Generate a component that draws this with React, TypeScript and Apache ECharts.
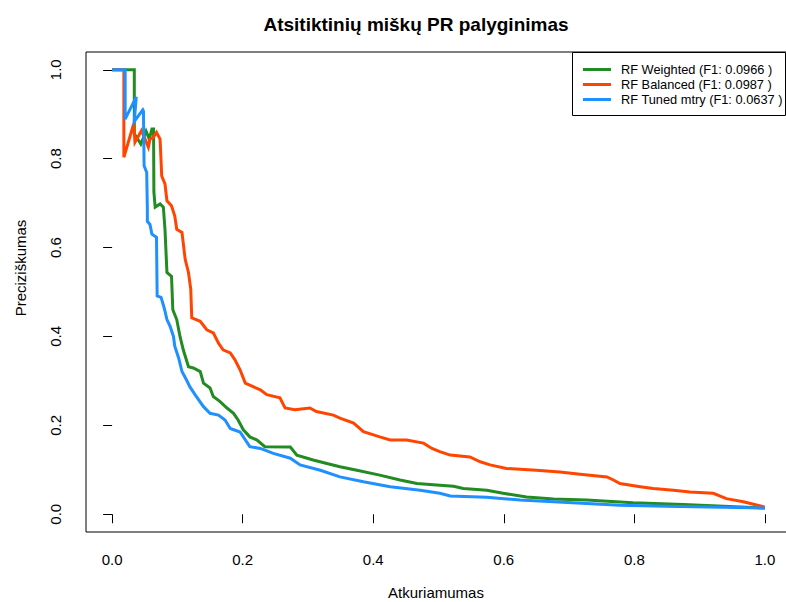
import React, { useEffect, useRef } from "react";
import * as echarts from "echarts";

const FONT = "'Liberation Sans', Arial, Helvetica, sans-serif";

const chartTitle = "Atsitiktinių miškų PR palyginimas";
const xAxisTitle = "Atkuriamumas";
const yAxisTitle = "Preciziškumas";
const tickValues = [0, 0.2, 0.4, 0.6, 0.8, 1.0];

const seriesNames = [
  "RF Weighted (F1: 0.0966 )",
  "RF Balanced (F1: 0.0987 )",
  "RF Tuned mtry (F1: 0.0637 )",
];
const seriesColors = ["#228B22", "#FF4500", "#1E90FF"];

// [recall, precision]
const weighted: [number, number][] = [
  [0, 1.0], [0.034, 1.0], [0.034, 0.856], [0.044, 0.833], [0.052, 0.862], [0.057, 0.844],
  [0.061, 0.867], [0.0635, 0.867], [0.064, 0.725], [0.066, 0.691], [0.0735, 0.698],
  [0.0785, 0.691], [0.081, 0.641], [0.084, 0.544], [0.091, 0.535], [0.093, 0.46],
  [0.099, 0.438], [0.104, 0.4], [0.109, 0.37], [0.117, 0.332], [0.1245, 0.329],
  [0.135, 0.321], [0.14, 0.295], [0.15, 0.284], [0.155, 0.265], [0.165, 0.254],
  [0.176, 0.239], [0.186, 0.227], [0.193, 0.212], [0.201, 0.19], [0.211, 0.174],
  [0.222, 0.167], [0.234, 0.152], [0.273, 0.151], [0.283, 0.133], [0.308, 0.122],
  [0.329, 0.114], [0.349, 0.107], [0.375, 0.099], [0.41, 0.088], [0.441, 0.077],
  [0.467, 0.069], [0.502, 0.065], [0.523, 0.063], [0.538, 0.058], [0.574, 0.054],
  [0.599, 0.047], [0.635, 0.039], [0.676, 0.034], [0.727, 0.032], [0.798, 0.026],
  [0.875, 0.022], [1.0, 0.014],
];

const balanced: [number, number][] = [
  [0, 1.0], [0.018, 1.0], [0.018, 0.803], [0.033, 0.878], [0.035, 0.837], [0.045, 0.863],
  [0.0505, 0.844], [0.0555, 0.826], [0.058, 0.844], [0.063, 0.848], [0.068, 0.859],
  [0.0735, 0.844], [0.076, 0.761], [0.081, 0.743], [0.084, 0.705], [0.091, 0.694],
  [0.096, 0.671], [0.099, 0.641], [0.107, 0.634], [0.112, 0.573], [0.117, 0.544],
  [0.1205, 0.506], [0.122, 0.442], [0.135, 0.434], [0.145, 0.415], [0.155, 0.408],
  [0.163, 0.385], [0.17, 0.37], [0.181, 0.363], [0.188, 0.348], [0.196, 0.325],
  [0.204, 0.295], [0.216, 0.287], [0.227, 0.28], [0.237, 0.269], [0.257, 0.262],
  [0.265, 0.239], [0.28, 0.235], [0.303, 0.239], [0.313, 0.231], [0.339, 0.223],
  [0.349, 0.216], [0.37, 0.205], [0.385, 0.186], [0.41, 0.174], [0.426, 0.167],
  [0.451, 0.167], [0.477, 0.16], [0.49, 0.148], [0.502, 0.141], [0.518, 0.133],
  [0.548, 0.129], [0.564, 0.118], [0.579, 0.111], [0.604, 0.103], [0.65, 0.099],
  [0.686, 0.095], [0.717, 0.09], [0.758, 0.084], [0.768, 0.077], [0.778, 0.069],
  [0.809, 0.062], [0.829, 0.058], [0.86, 0.054], [0.885, 0.05], [0.921, 0.047],
  [0.941, 0.035], [0.967, 0.028], [1.0, 0.016],
];

const tunedMtry: [number, number][] = [
  [0, 1.0], [0.02, 1.0], [0.02, 0.889], [0.037, 0.939], [0.034, 0.884], [0.047, 0.91],
  [0.048, 0.907], [0.049, 0.784], [0.053, 0.769], [0.054, 0.686], [0.054, 0.659],
  [0.058, 0.652], [0.061, 0.63], [0.068, 0.623], [0.069, 0.491], [0.075, 0.488],
  [0.079, 0.468], [0.081, 0.457], [0.084, 0.438], [0.089, 0.422], [0.094, 0.4],
  [0.096, 0.378], [0.102, 0.351], [0.107, 0.321], [0.114, 0.302], [0.119, 0.287],
  [0.127, 0.269], [0.14, 0.242], [0.15, 0.227], [0.163, 0.223], [0.173, 0.212],
  [0.181, 0.193], [0.196, 0.185], [0.211, 0.152], [0.227, 0.148], [0.247, 0.137],
  [0.273, 0.126], [0.288, 0.111], [0.319, 0.099], [0.349, 0.084], [0.385, 0.073],
  [0.426, 0.062], [0.472, 0.054], [0.502, 0.047], [0.518, 0.041], [0.574, 0.038],
  [0.625, 0.032], [0.676, 0.028], [0.727, 0.024], [0.778, 0.02], [0.849, 0.018],
  [1.0, 0.014],
];

const seriesData = [weighted, balanced, tunedMtry];

export default function App() {
  const ref = useRef<HTMLDivElement>(null);
  useEffect(() => {
    if (!ref.current) return;
    const chart = echarts.init(ref.current, null, { renderer: "svg" });
    const axisCommon = {
      type: "value" as const,
      min: -0.04,
      max: 1.04,
      splitLine: { show: false },
      axisLine: { show: false },
      axisTick: {
        show: true,
        inside: false,
        length: 9,
        customValues: tickValues,
        lineStyle: { color: "#000", width: 1 },
      },
      axisLabel: {
        customValues: tickValues,
        color: "#000",
        fontFamily: FONT,
        fontSize: 15,
        formatter: (v: number) => v.toFixed(1),
      },
    };
    chart.setOption({
      animation: false,
      backgroundColor: "#fff",
      grid: {
        left: 86,
        top: 52,
        width: 705,
        height: 480,
        outerBoundsMode: "none",
        containLabel: false,
        show: true,
        borderColor: "#000",
        borderWidth: 1,
        backgroundColor: "transparent",
      },
      xAxis: {
        ...axisCommon,
        axisLabel: { ...axisCommon.axisLabel, margin: 20 },
      },
      yAxis: {
        ...axisCommon,
        axisLabel: { ...axisCommon.axisLabel, rotate: 90, margin: 23 },
      },
      legend: {
        orient: "vertical",
        left: 583,
        top: 62,
        itemWidth: 28,
        itemHeight: 3,
        itemGap: 0,
        icon: "rect",
        padding: 0,
        textStyle: {
          fontFamily: FONT,
          fontSize: 12.8,
          color: "#000",
          padding: [0, 0, 0, 5],
          lineHeight: 15,
          overflow: "none",
        },
        data: seriesNames,
      },
      series: seriesData.map((d, i) => ({
        name: seriesNames[i],
        type: "line",
        data: d,
        showSymbol: false,
        symbol: "none",
        color: seriesColors[i],
        lineStyle: { width: 3, color: seriesColors[i], join: "miter" },
        z: 2 + i,
      })),
      graphic: [
        {
          type: "text",
          x: 416,
          y: 24,
          style: {
            text: chartTitle,
            font: `bold 19px ${FONT}`,
            fill: "#000",
            textAlign: "center",
            textVerticalAlign: "middle",
          },
        },
        {
          type: "text",
          x: 436,
          y: 592,
          style: {
            text: xAxisTitle,
            font: `15px ${FONT}`,
            fill: "#000",
            textAlign: "center",
            textVerticalAlign: "middle",
          },
        },
        {
          type: "text",
          x: 20,
          y: 268,
          rotation: Math.PI / 2,
          style: {
            text: yAxisTitle,
            font: `15px ${FONT}`,
            fill: "#000",
            textAlign: "center",
            textVerticalAlign: "middle",
          },
        },
        {
          type: "rect",
          shape: { x: 572.5, y: 52.5, width: 213, height: 63 },
          style: { fill: "#fff", stroke: "#000", lineWidth: 1 },
          z: 1,
          zlevel: 0,
        },
      ],
    });
    return () => chart.dispose();
  }, []);
  return (
    <div
      ref={ref}
      style={{ position: "fixed", left: 0, top: 0, width: 786, height: 602, background: "#fff" }}
    />
  );
}
